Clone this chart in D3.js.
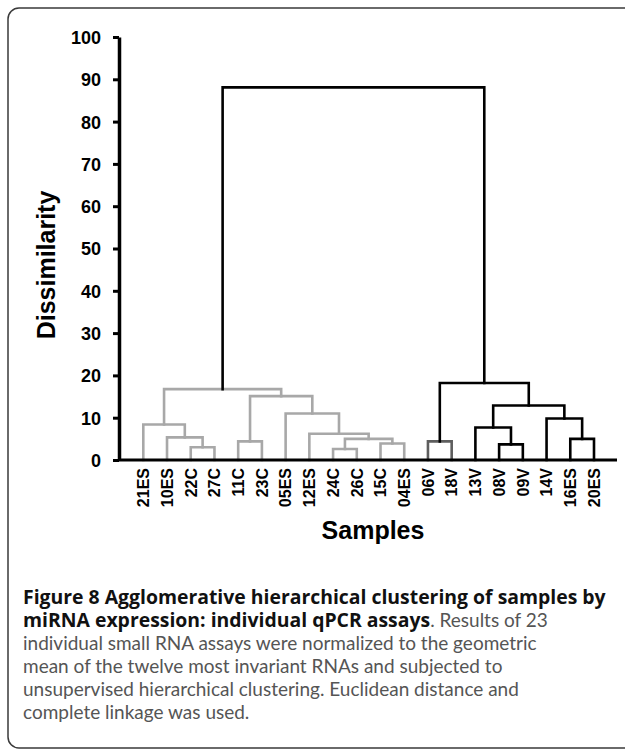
<!DOCTYPE html>
<html>
<head>
<meta charset="utf-8">
<script src="https://cdn.jsdelivr.net/npm/d3@7"></script>
<style>
    html, body { margin: 0; padding: 0; background: #fff; }
    svg { display: block; }
    .axis-label { font-family: "Liberation Sans", Arial, sans-serif; font-weight: bold; fill: #000; }
    .caption { font-family: Lato, "Open Sans", sans-serif; font-size: 19px; fill: #555; }
    .caption .b { font-family: "Open Sans", sans-serif; font-size: 19.4px; font-weight: 700; fill: #111; }
</style>
</head>
<body>
<div id="chart"></div>
<script>
// Samples in leaf order, left to right
const leaves = ["21ES", "10ES", "22C", "27C", "11C", "23C", "05ES", "12ES", "24C", "26C",
                "15C", "04ES", "06V", "18V", "13V", "08V", "09V", "14V", "16ES", "20ES"];

// Merges: each joins two members (leaf name or "m" + merge index) at a dissimilarity
const mergeLeft   = ["22C", "10ES", "21ES", "11C", "24C", "15C", "m4", "12ES", "05ES", "m3",
                     "m2", "06V", "08V", "13V", "16ES", "14V", "m13", "m11", "m10"];
const mergeRight  = ["27C", "m0", "m1", "23C", "26C", "04ES", "m5", "m6", "m7", "m8",
                     "m9", "18V", "09V", "m12", "20ES", "m14", "m15", "m16", "m17"];
const mergeHeight = [3.0, 5.35, 8.4, 4.4, 2.6, 3.9, 5.0, 6.2, 11.0, 15.1,
                     16.75, 4.4, 3.7, 7.7, 5.0, 9.8, 12.9, 18.2, 88.1];

const yTicks = [0, 10, 20, 30, 40, 50, 60, 70, 80, 90, 100];

// Cluster colour groups
const greyGroup = leaves.slice(0, 12);
const darkGroup = ["06V", "18V"];

(function () {
    const W = 625, H = 754;

    const svg = d3.select("#chart").append("svg")
        .attr("width", W)
        .attr("height", H);

    // ── Frame ────────────────────────────────────────────────────────────
    svg.append("rect")
        .attr("x", 8).attr("y", 8)
        .attr("width", 660).attr("height", 740)
        .attr("rx", 11)
        .attr("fill", "none")
        .attr("stroke", "#3a3a3a")
        .attr("stroke-width", 1.5);

    // ── Scales ───────────────────────────────────────────────────────────
    const x = d3.scalePoint().domain(leaves).range([143.3, 594]);
    const y = d3.scaleLinear().domain([0, 100]).range([460, 37]);
    const axisX0 = 119, axisX1 = 617;

    // ── Build node positions ─────────────────────────────────────────────
    const nodes = new Map();
    leaves.forEach(l => nodes.set(l, { x: x(l), h: 0, members: [l] }));
    mergeHeight.forEach((h, i) => {
        const a = nodes.get(mergeLeft[i]), b = nodes.get(mergeRight[i]);
        nodes.set("m" + i, { x: (a.x + b.x) / 2, h, members: a.members.concat(b.members), a, b });
    });

    function colorOf(n) {
        if (n.members.every(m => darkGroup.includes(m))) return "#5e5e5e";
        if (n.members.every(m => greyGroup.includes(m))) return "#a8a8a8";
        return "#000";
    }

    // ── Dendrogram links ─────────────────────────────────────────────────
    const links = mergeHeight.map((h, i) => nodes.get("m" + i));
    svg.append("g").selectAll("path")
        .data(links)
        .join("path")
        .attr("d", n => `M${n.a.x},${y(n.a.h)}V${y(n.h)}H${n.b.x}V${y(n.b.h)}`)
        .attr("fill", "none")
        .attr("stroke", colorOf)
        .attr("stroke-width", 2.6)
        .attr("stroke-linecap", "square");

    // ── Y axis ───────────────────────────────────────────────────────────
    const yAxis = svg.append("g")
        .attr("transform", `translate(${axisX0},0)`)
        .call(d3.axisLeft(y).tickValues(yTicks).tickSize(6).tickSizeOuter(0).tickPadding(12));
    yAxis.select(".domain").attr("stroke-width", 3.5);
    yAxis.selectAll(".tick line").attr("stroke-width", 3);
    yAxis.selectAll(".tick text")
        .attr("class", "axis-label")
        .style("font-size", "18px")
        .attr("dy", "0.36em");
    yAxis.attr("font-family", null).attr("font-size", null);

    // ── Baseline ─────────────────────────────────────────────────────────
    svg.append("line")
        .attr("x1", axisX0).attr("x2", axisX1)
        .attr("y1", y(0)).attr("y2", y(0))
        .attr("stroke", "#000")
        .attr("stroke-width", 3);

    // ── Leaf labels ──────────────────────────────────────────────────────
    svg.append("g").selectAll("text")
        .data(leaves)
        .join("text")
        .attr("class", "axis-label")
        .style("font-size", "16px")
        .attr("text-anchor", "end")
        .attr("transform", d => `translate(${x(d)},${y(0) + 8}) rotate(-90)`)
        .attr("dy", "0.36em")
        .text(d => d);

    // ── Axis titles ──────────────────────────────────────────────────────
    svg.append("text")
        .attr("class", "axis-label")
        .style("font-size", "25px")
        .attr("text-anchor", "middle")
        .attr("transform", "translate(55,265) rotate(-90)")
        .text("Dissimilarity");

    svg.append("text")
        .attr("class", "axis-label")
        .style("font-size", "25px")
        .attr("text-anchor", "middle")
        .attr("x", 373).attr("y", 539)
        .text("Samples");

    // ── Caption ──────────────────────────────────────────────────────────
    const captionLines = [
        [["b", "Figure 8 Agglomerative hierarchical clustering of samples by"]],
        [["b", "miRNA expression: individual qPCR assays"], ["r", ". Results of 23"]],
        [["r", "individual small RNA assays were normalized to the geometric"]],
        [["r", "mean of the twelve most invariant RNAs and subjected to"]],
        [["r", "unsupervised hierarchical clustering. Euclidean distance and"]],
        [["r", "complete linkage was used."]]
    ];
    const cap = svg.append("text").attr("class", "caption");
    captionLines.forEach((line, i) => {
        line.forEach(([k, t], j) => {
            const ts = cap.append("tspan").text(t);
            if (k === "b") ts.attr("class", "b");
            if (j === 0) ts.attr("x", 23).attr("y", 604 + i * 23);
        });
    });
})();
</script>
</body>
</html>
